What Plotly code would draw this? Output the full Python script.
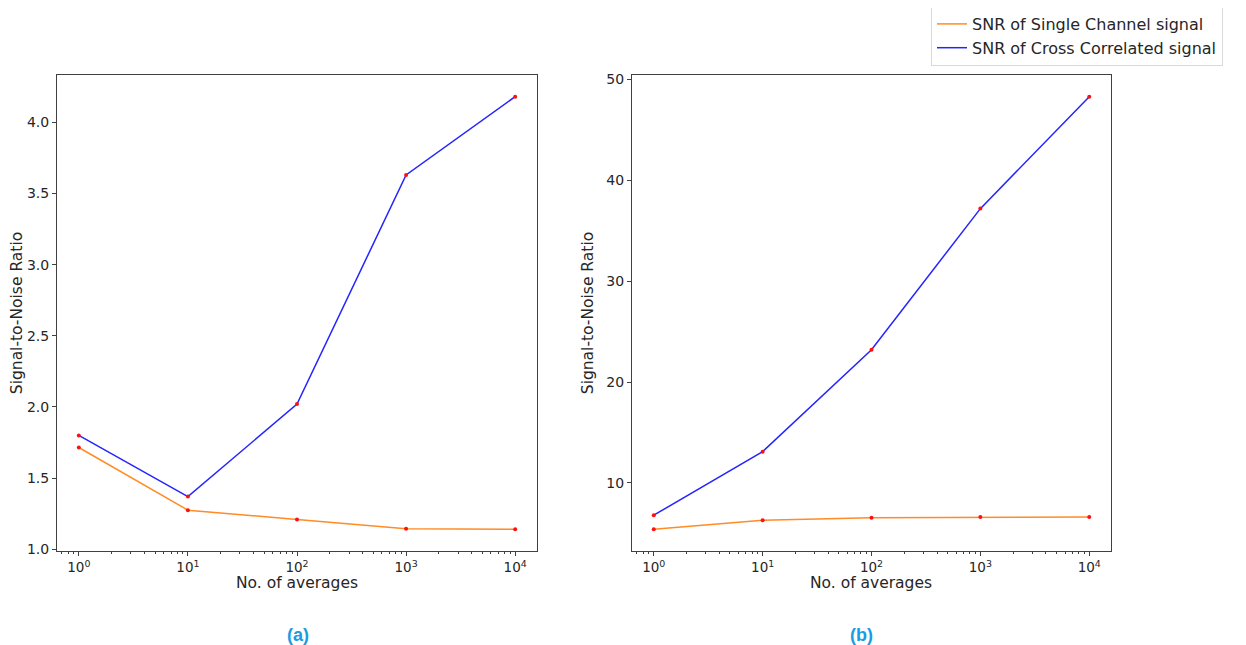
import plotly.graph_objects as go

averages = [1, 10, 100, 1000, 10000]
x_tick_text = ["10<sup>0</sup>", "10<sup>1</sup>", "10<sup>2</sup>", "10<sup>3</sup>", "10<sup>4</sup>"]

a_single = [1.715, 1.275, 1.21, 1.145, 1.14]
a_cross = [1.80, 1.37, 2.02, 3.63, 4.18]
b_single = [5.4, 6.3, 6.55, 6.62, 6.62]
b_cross = [6.8, 13.1, 23.2, 37.2, 48.3]

label_single = "SNR of Single Channel signal"
label_cross = "SNR of Cross Correlated signal"

ORANGE = "#ff8c26"
BLUE = "#2424ff"
FONT = "DejaVu Sans"
TXT = "#262626"

# page body has an 8px margin; map reference pixel positions into figure coords
W, H, OFF = 1238, 637, 8


def px(x):
    return (x - OFF) / W


def py(y):
    return 1 - (y - OFF) / H


fig = go.Figure()


def add_panel(xa, ya, single, cross, show):
    fig.add_trace(go.Scatter(x=averages, y=single, mode="lines", line=dict(color=ORANGE, width=1.5),
                             name=label_single, showlegend=show, xaxis=xa, yaxis=ya))
    fig.add_trace(go.Scatter(x=averages, y=cross, mode="lines", line=dict(color=BLUE, width=1.5),
                             name=label_cross, showlegend=show, xaxis=xa, yaxis=ya))
    for s in (single, cross):
        fig.add_trace(go.Scatter(x=averages, y=s, mode="markers", marker=dict(color="#ff1010", size=4),
                                 showlegend=False, xaxis=xa, yaxis=ya, hoverinfo="skip"))


add_panel("x", "y", a_single, a_cross, True)
add_panel("x2", "y2", b_single, b_cross, False)

xcommon = dict(type="log", range=[-0.2, 4.2], tickvals=averages, ticktext=x_tick_text, automargin=False,
               showgrid=False, zeroline=False, showline=True, linecolor="#404040", linewidth=1, mirror=True,
               ticks="outside", ticklen=4, tickcolor="#404040",
               minor=dict(ticks="outside", ticklen=2, tickcolor="#404040", dtick="D1", showgrid=False),
               tickfont=dict(family=FONT, size=13.5, color=TXT))
ycommon = dict(showgrid=False, zeroline=False, showline=True, linecolor="#404040", linewidth=1, mirror=True,
               ticks="outside", ticklen=4, tickcolor="#404040", automargin=False,
               tickfont=dict(family=FONT, size=14, color=TXT),
               title=dict(text="Signal-to-Noise Ratio", font=dict(family=FONT, size=15.5, color=TXT), standoff=8))

ann_font = dict(family="Liberation Sans", size=18, color="#1a9ce0")
title_font = dict(family=FONT, size=15.5, color=TXT)

fig.update_layout(
    width=W, height=H,
    margin=dict(l=0, r=0, t=0, b=0, autoexpand=False),
    paper_bgcolor="white", plot_bgcolor="white",
    font=dict(family=FONT, color=TXT),
    xaxis=dict(domain=[px(57), px(537)], anchor="y", **xcommon),
    yaxis=dict(domain=[py(551), py(75)], anchor="x", range=[0.988, 4.332],
               tickvals=[1.0, 1.5, 2.0, 2.5, 3.0, 3.5, 4.0], tickformat=".1f", **ycommon),
    xaxis2=dict(domain=[px(632), px(1111)], anchor="y2", **xcommon),
    yaxis2=dict(domain=[py(551), py(75)], anchor="x2", range=[3.25, 50.45],
                tickvals=[10, 20, 30, 40, 50], **ycommon),
    legend=dict(x=px(931), xanchor="left", y=py(6), yanchor="top",
                bgcolor="white", bordercolor="#d9d9d9", borderwidth=1,
                font=dict(family=FONT, size=16, color=TXT), tracegroupgap=0),
    annotations=[
        dict(text="No. of averages", x=px(297), y=py(583), xref="paper", yref="paper",
             xanchor="center", yanchor="middle", showarrow=False, font=title_font),
        dict(text="No. of averages", x=px(871), y=py(583), xref="paper", yref="paper",
             xanchor="center", yanchor="middle", showarrow=False, font=title_font),
        dict(text="<b>(a)</b>", x=px(298), y=py(635), xref="paper", yref="paper",
             xanchor="center", yanchor="middle", showarrow=False, font=ann_font),
        dict(text="<b>(b)</b>", x=px(862), y=py(635), xref="paper", yref="paper",
             xanchor="center", yanchor="middle", showarrow=False, font=ann_font),
    ],
)

fig.write_html("out.html")
